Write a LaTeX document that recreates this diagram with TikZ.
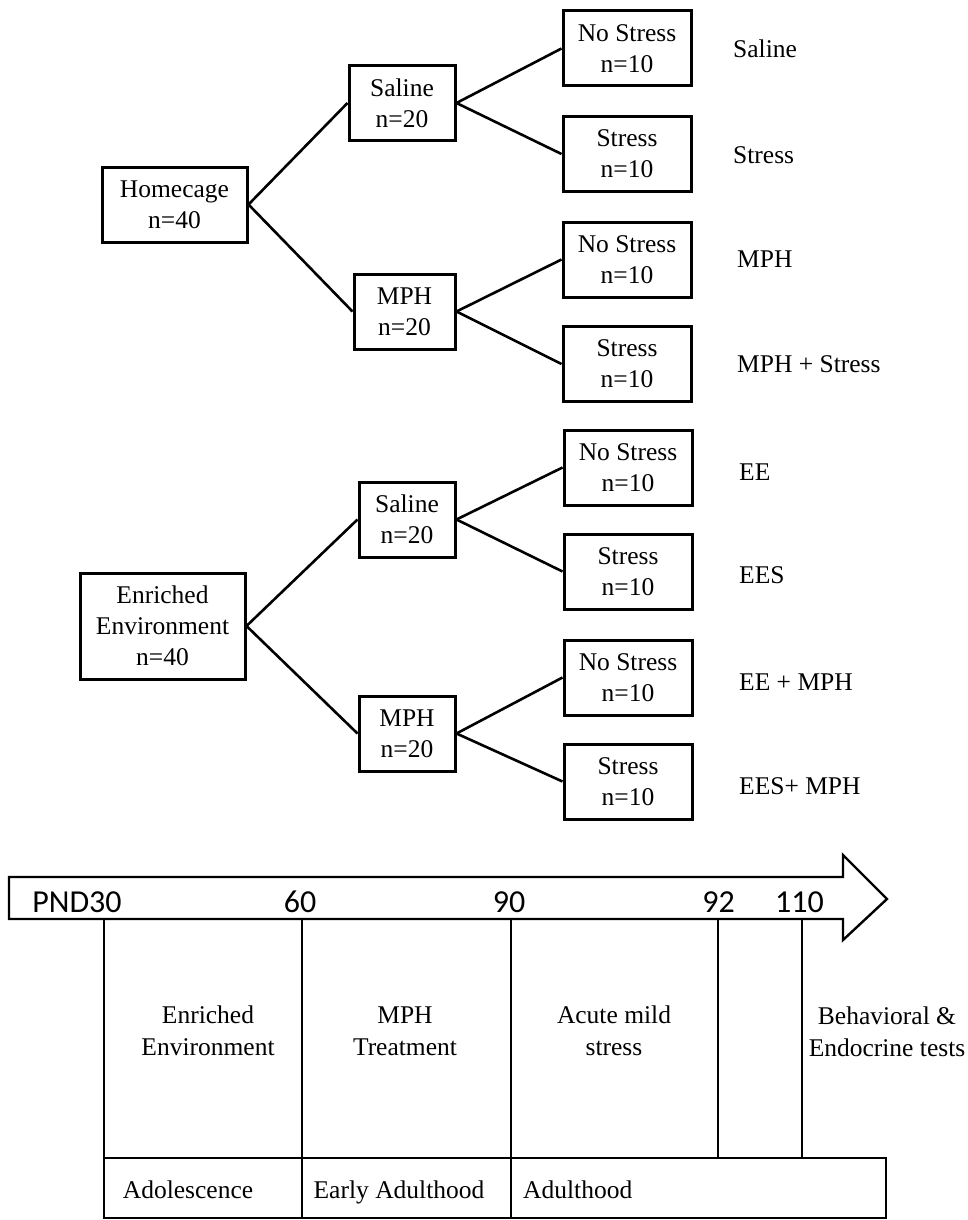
\documentclass[tikz,border=0pt]{standalone}
\usepackage{fontspec}
\setmainfont{Liberation Serif}
\newfontfamily\calib{Carlito}
\begin{document}
\begin{tikzpicture}[x=1pt,y=-1pt,
  box/.style={draw,line width=3pt,rectangle,inner sep=0pt,align=center,
    font=\fontsize{25.5}{31}\selectfont},
  lbl/.style={anchor=base west,inner sep=0pt,font=\fontsize{25.5}{31}\selectfont},
  txt/.style={inner sep=0pt,align=center,font=\fontsize{25.5}{32}\selectfont},
  btxt/.style={anchor=base,inner sep=0pt,font=\fontsize{25.5}{32}\selectfont},
  num/.style={anchor=base,inner sep=0pt,font=\calib\fontsize{32}{36}\selectfont},
  conn/.style={line width=2.6pt},
  tl/.style={line width=2.4pt}]
\useasboundingbox (0,0) rectangle (968,1220);
\fill[white] (0,0) rectangle (968,1220);
% ---- upper tree
\node[box,minimum width=145pt,minimum height=75pt] (home) at (174.5,204.5) {Homecage\\n=40};
\node[box,minimum width=106pt,minimum height=74pt] (sal1) at (402,103) {Saline\\n=20};
\node[box,minimum width=101pt,minimum height=75pt] (mph1) at (404.5,311.5) {MPH\\n=20};
\node[box,minimum width=128pt,minimum height=75pt] (a1) at (627,48.5) {No Stress\\n=10};
\node[box,minimum width=128pt,minimum height=75pt] (a2) at (627,154) {Stress\\n=10};
\node[box,minimum width=128pt,minimum height=75pt] (a3) at (627,259.5) {No Stress\\n=10};
\node[box,minimum width=128pt,minimum height=75pt] (a4) at (627,364) {Stress\\n=10};
\node[lbl] (la1) at (733,57.5) {Saline};
\node[lbl] (la2) at (733,163.5) {Stress};
\node[lbl] (la3) at (737,267.5) {MPH};
\node[lbl] (la4) at (737,372.5) {MPH + Stress};
\draw[conn] (home.east) -- (sal1.west);
\draw[conn] (home.east) -- (mph1.west);
\draw[conn] (sal1.east) -- (a1.west);
\draw[conn] (sal1.east) -- (a2.west);
\draw[conn] (mph1.east) -- (a3.west);
\draw[conn] (mph1.east) -- (a4.west);
% ---- lower tree
\node[box,minimum width=165pt,minimum height=106pt] (ee) at (162.5,626) {Enriched\\Environment\\n=40};
\node[box,minimum width=96pt,minimum height=75pt] (sal2) at (407,519.5) {Saline\\n=20};
\node[box,minimum width=96pt,minimum height=75pt] (mph2) at (407,733.5) {MPH\\n=20};
\node[box,minimum width=128pt,minimum height=75pt] (b1) at (628,467.5) {No Stress\\n=10};
\node[box,minimum width=128pt,minimum height=75pt] (b2) at (628,571.5) {Stress\\n=10};
\node[box,minimum width=128pt,minimum height=75pt] (b3) at (628,677.5) {No Stress\\n=10};
\node[box,minimum width=128pt,minimum height=75pt] (b4) at (628,781.5) {Stress\\n=10};
\node[lbl] (lb1) at (739,480.5) {EE};
\node[lbl] (lb2) at (739,583.5) {EES};
\node[lbl] (lb3) at (739,690.5) {EE + MPH};
\node[lbl] (lb4) at (739,794.5) {EES+ MPH};
\draw[conn] (ee.east) -- (sal2.west);
\draw[conn] (ee.east) -- (mph2.west);
\draw[conn] (sal2.east) -- (b1.west);
\draw[conn] (sal2.east) -- (b2.west);
\draw[conn] (mph2.east) -- (b3.west);
\draw[conn] (mph2.east) -- (b4.west);
% ---- timeline arrow
\draw[tl,line join=miter] (9,877) -- (843,877) -- (843,855) -- (887,899) -- (843,940) -- (843,919) -- (9,919) -- cycle;
\node[num] (n30) at (77,912) {PND30};
\node[num] (n60) at (300,912) {60};
\node[num] (n90) at (509,912) {90};
\node[num] (n92) at (718.5,912) {92};
\node[num] (n110) at (799.5,912) {110};
% vertical lines
\coordinate (v1t) at (104,919); \coordinate (v1b) at (104,1158);
\coordinate (v2t) at (302,919); \coordinate (v2b) at (302,1158);
\coordinate (v3t) at (511,919); \coordinate (v3b) at (511,1158);
\coordinate (v4t) at (718,919); \coordinate (v4b) at (718,1158);
\coordinate (v5t) at (802,919); \coordinate (v5b) at (802,1158);
\draw[tl] (v1t) -- (v1b);
\draw[tl] (v2t) -- (v2b);
\draw[tl] (v3t) -- (v3b);
\draw[tl] (v4t) -- (v4b);
\draw[tl] (v5t) -- (v5b);
% bottom box
\draw[line width=2.8pt] (104,1158) rectangle (886,1218);
\draw[tl] (302,1158) -- (302,1218);
\draw[tl] (511,1158) -- (511,1218);
\node[txt] (ph1) at (208,1031) {Enriched\\Environment};
\node[txt] (ph2) at (405,1031) {MPH\\Treatment};
\node[txt] (ph3) at (614,1031) {Acute mild\\stress};
\node[txt] (ph4) at (887,1032) {Behavioral \&\\Endocrine tests};
\node[btxt] (s1) at (188,1198) {Adolescence};
\node[btxt] (s2) at (399,1198) {Early Adulthood};
\node[lbl] (s3) at (523,1198) {Adulthood};
\end{tikzpicture}
\end{document}
